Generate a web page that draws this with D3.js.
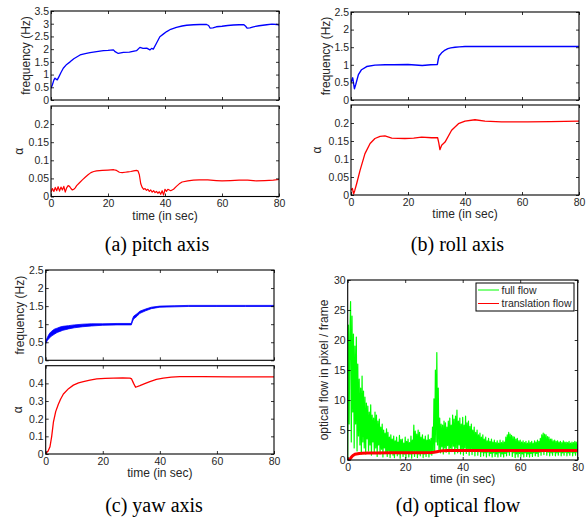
<!DOCTYPE html>
<html lang="en">
<head>
<meta charset="UTF-8" />
<title>Oscillation frequency, alpha and optical flow</title>
<script src="https://d3js.org/d3.v7.min.js"></script>
<style>
  html, body { margin: 0; padding: 0; background: #fff; }
  svg { display: block; }
  .tick text { font-family: "Liberation Sans", Arial, sans-serif; font-size: 10.5px; fill: #262626; }
  .axis-label { font-family: "Liberation Sans", Arial, sans-serif; font-size: 12px; fill: #262626; }
  .legend-text { font-family: "Liberation Sans", Arial, sans-serif; font-size: 10.5px; fill: #262626; }
  .caption { font-family: "Liberation Serif", "Times New Roman", serif; font-size: 20px; fill: #000; }
</style>
</head>
<body>
<svg id="chart" width="587" height="517"></svg>
<script>
// ---- tick values ----
const xTicks       = [0, 20, 40, 60, 80];
const freqTicksA   = [0, 0.5, 1, 1.5, 2, 2.5, 3, 3.5];
const freqTicksBC  = [0, 0.5, 1, 1.5, 2, 2.5];
const alphaTicksAB = [0, 0.05, 0.1, 0.15, 0.2];
const alphaTicksC  = [0, 0.1, 0.2, 0.3, 0.4];
const flowTicks    = [0, 5, 10, 15, 20, 25, 30];

// ---- (a) pitch ----
const pitchFreqT = [0, 0.5, 1, 1.4, 1.8, 2.2, 2.8, 3.5, 4.3, 5.5, 6.7, 8, 10.2, 12, 13.7, 16, 18.4, 20, 21.9, 22.5,
  23.6, 25.4, 27.5, 30, 31.2, 32.3, 33.6, 34.7, 35.3, 35.9, 37, 38.2, 39.5, 40.6, 42, 44, 46, 47.6, 50, 52.3,
  54.6, 55.3, 55.8, 56.8, 58, 60, 62, 64, 66, 67.7, 68.3, 68.8, 69.8, 71, 73, 75.7, 77.5, 79.2, 80];
const pitchFreqV = [0.46, 0.6, 0.78, 0.86, 0.82, 0.79, 0.92, 1.08, 1.25, 1.4, 1.5, 1.62, 1.77, 1.82, 1.86, 1.9, 1.94, 1.95, 1.97, 1.9,
  1.83, 1.87, 1.88, 1.94, 2.07, 2.03, 2.04, 1.97, 2.03, 2.0, 2.23, 2.49, 2.6, 2.69, 2.78, 2.86, 2.91, 2.94, 2.96, 2.97,
  2.97, 2.93, 2.83, 2.84, 2.88, 2.9, 2.93, 2.95, 2.96, 2.96, 2.9, 2.83, 2.84, 2.88, 2.92, 2.96, 2.98, 2.97, 2.94];
const pitchAlphaT = [0, 0.5, 1, 1.5, 2, 2.5, 3, 3.5, 4, 4.5, 5, 5.5, 6, 6.5, 7, 7.5, 8, 8.5, 9,
  10, 11, 12, 13, 14, 15, 16, 18, 20, 22, 23, 24, 25, 26, 27, 28, 29, 30,
  30.5, 31, 31.5, 32, 32.5, 33, 33.5, 34, 34.5, 35, 35.5, 36, 36.5, 37, 37.5, 38, 38.5, 39, 39.5, 40, 40.5, 41,
  42, 43, 44, 45, 46, 48, 50, 52, 55, 58, 60, 63, 66, 69, 72, 75, 78, 80];
const pitchAlphaV = [0.012, 0.022, 0.014, 0.025, 0.016, 0.027, 0.015, 0.026, 0.018, 0.028, 0.012, 0.024, 0.03, 0.028, 0.022, 0.018, 0.02, 0.024, 0.03,
  0.038, 0.046, 0.053, 0.06, 0.066, 0.069, 0.071, 0.072, 0.073, 0.074, 0.072, 0.067, 0.066, 0.067, 0.068, 0.069, 0.071, 0.072,
  0.071, 0.06, 0.035, 0.025, 0.02, 0.022, 0.017, 0.02, 0.014, 0.018, 0.012, 0.016, 0.011, 0.014, 0.009, 0.013, 0.006, 0.016, 0.004, 0.02, 0.014, 0.02,
  0.016, 0.02, 0.028, 0.035, 0.04, 0.043, 0.045, 0.046, 0.046, 0.044, 0.043, 0.044, 0.045, 0.045, 0.043, 0.044, 0.045, 0.047];

// ---- (b) roll ----
const rollFreqT = [0, 0.6, 1.2, 1.7, 2.6, 3.7, 5.5, 8.4, 12, 15, 20, 25, 28, 30.3, 30.6, 30.9, 31.8, 33, 34, 35, 36.5, 38, 40, 45, 50, 60, 70, 80];
const rollFreqV = [0.5, 0.63, 0.32, 0.45, 0.72, 0.86, 0.95, 0.99, 1.0, 1.0, 1.01, 0.98, 1.0, 1.01, 1.15, 1.25, 1.34, 1.42, 1.46, 1.48, 1.5, 1.51, 1.52, 1.52, 1.52, 1.52, 1.52, 1.52];
const rollAlphaT = [0, 0.5, 0.9, 1.3, 2, 3.2, 4.9, 6.7, 8.4, 10.2, 11.9, 14.3, 18.9, 22, 24.8, 28.3, 30.4, 30.8, 31.2, 31.8, 33, 35.3, 37.7, 40, 43.5, 47, 52.8, 62, 70, 80];
const rollAlphaV = [0.014, 0.018, 0.003, 0.012, 0.032, 0.069, 0.115, 0.143, 0.157, 0.163, 0.164, 0.158, 0.157, 0.158, 0.161, 0.159, 0.159, 0.145, 0.126, 0.138, 0.147, 0.18, 0.198, 0.205, 0.209, 0.205, 0.203, 0.203, 0.204, 0.205];

// ---- (c) yaw (frequency drawn as a dense band: low / high edges) ----
const yawFreqT  = [0, 0.5, 1, 1.5, 2, 3, 4, 5, 6, 8, 10, 13, 16, 20, 25, 30, 30.4, 30.8, 32, 33, 35, 37, 40, 45, 50, 60, 70, 80];
const yawFreqLo = [0.46, 0.54, 0.59, 0.63, 0.67, 0.72, 0.77, 0.8, 0.83, 0.87, 0.9, 0.93, 0.95, 0.97, 0.98, 0.98, 1.07, 1.14, 1.22, 1.3, 1.37, 1.43, 1.47, 1.48, 1.49, 1.49, 1.49, 1.49];
const yawFreqHi = [0.52, 0.62, 0.7, 0.76, 0.8, 0.86, 0.89, 0.92, 0.94, 0.96, 0.98, 1.0, 1.01, 1.01, 1.02, 1.02, 1.14, 1.22, 1.29, 1.36, 1.42, 1.47, 1.5, 1.51, 1.52, 1.52, 1.52, 1.52];
const yawAlphaT = [0, 0.8, 1.5, 2.1, 2.7, 3.5, 4.4, 5.2, 6.2, 8, 9.7, 11.5, 13.2, 15.5, 17.9, 20.8, 23.7, 27, 29.5, 30.1,
  30.8, 31.5, 33, 34.7, 36.5, 38.8, 41.2, 44, 47, 55, 65, 80];
const yawAlphaV = [0.004, 0.015, 0.041, 0.1, 0.18, 0.24, 0.28, 0.31, 0.34, 0.37, 0.39, 0.403, 0.41, 0.418, 0.425, 0.428, 0.43, 0.431, 0.43, 0.425,
  0.4, 0.378, 0.387, 0.398, 0.41, 0.422, 0.43, 0.435, 0.438, 0.438, 0.437, 0.437];

// ---- (d) optical flow: full flow sampled every 0.25 s (one row = 1 s), translation flow ----
const flowStep = 0.25;
const fullFlowV = [
  0.3, 22.5, 6, 21,   26.4, 3, 24, 8,      21, 2, 19, 6,       20.5, 1.5, 16, 4,    13.5, 2.5, 12, 1,
  14, 3, 11.5, 2,     10.5, 1, 9.5, 3.5,   9, 1.5, 8, 2.5,     9.2, 0.8, 7.5, 3,    7, 1.2, 8, 2,
  7.5, 0.6, 6.5, 2.5, 6.8, 1, 5.5, 1.8,    6, 0.5, 5, 2,       4.5, 1.2, 5.2, 0.6,  4.6, 1.5, 3.8, 0.4,
  4.2, 1.1, 3.5, 0.8, 4, 0.4, 3.2, 1.4,    3.8, 0.7, 3, 1,     4.1, 0.3, 3.4, 1.2,  3.5, 0.6, 2.8, 1,
  3.8, 0.4, 3.1, 1.3, 3.5, 0.5, 2.9, 1,    4, 0.3, 3.3, 1.2,   5.8, 0.6, 4.8, 1.4,  4.3, 0.4, 5, 1,
  4.6, 0.7, 3.8, 1.3, 4.2, 0.4, 3.5, 1,    4, 0.6, 3.3, 1.2,   4.2, 0.5, 3.4, 1,    3.6, 0.8, 5.5, 1.2,
  10.2, 1.5, 15, 3,   17.9, 2.5, 12, 1.5,  7, 1.2, 6, 2.2,     5.8, 1, 6.5, 2,      6.2, 1.3, 5.5, 2.4,
  6.5, 1, 7, 2,       5.8, 1.4, 7.5, 2.3,  6.8, 1, 7.3, 2,     8.3, 1.2, 6.5, 2.5,  7, 1, 6, 1.8,
  7.1, 0.8, 5.8, 2,   7.3, 1.1, 6.2, 1.6,  6.5, 0.8, 5.6, 1.7, 6, 0.9, 5, 1.5,     5.5, 0.7, 4.6, 1.6,
  5, 0.8, 4.2, 1.4,   4.5, 0.6, 3.8, 1.3,  4.2, 0.7, 3.5, 1.2, 3.8, 0.5, 3.2, 1.3,  3.6, 0.7, 3.1, 1.1,
  3.5, 0.5, 3, 1.2,   3.3, 0.6, 2.9, 1,    3.2, 0.5, 2.8, 1.2, 3.3, 0.6, 2.9, 1,    3.2, 0.5, 3, 1.1,
  3.8, 0.7, 4.2, 1.3, 4.6, 0.8, 4.3, 1.4,  4.1, 0.6, 3.9, 1.2, 3.8, 0.4, 3.5, 1,    3.6, 0.5, 3.2, 1.1,
  3.3, 0.6, 3, 1,     3.2, 0.5, 2.9, 1.2,  3.1, 0.6, 2.8, 1,   3.2, 0.5, 2.9, 1.1,  3.1, 0.6, 2.8, 1.2,
  3.2, 0.7, 3, 1.1,   3.3, 0.6, 3.1, 1.3,  3.6, 0.8, 4.2, 1.4, 4.5, 0.9, 4.3, 1.5,  4.2, 0.8, 3.9, 1.3,
  3.8, 0.7, 3.5, 1.2, 3.5, 0.8, 3.2, 1.3,  3.3, 0.7, 3.1, 1.2, 3.2, 0.8, 3, 1.3,    3.1, 0.7, 2.9, 1.2,
  3.2, 0.8, 3, 1.3,   3, 0.7, 2.9, 1.2,    3.1, 0.8, 2.8, 1.3, 3, 0.7, 2.9, 1.2,    3.1, 0.8, 3, 1.3,
  2.6];
const transFlowT = [0, 0.5, 1, 1.5, 2, 2.5, 3, 4, 5, 7, 10, 15, 20, 25, 29, 30, 31, 32, 33, 35, 40, 50, 60, 70, 80];
const transFlowV = [0, 0.05, 0.3, 0.6, 0.8, 0.95, 1.0, 1.08, 1.12, 1.15, 1.18, 1.2, 1.2, 1.22, 1.25, 1.28, 1.38, 1.48, 1.55, 1.57, 1.58, 1.58, 1.58, 1.58, 1.58];

const legendNames = ['full flow', 'translation flow'];
const captions = ['(a) pitch axis', '(b) roll axis', '(c) yaw axis', '(d) optical flow'];

const BLUE = '#0000ff', RED = '#ff0000', GREEN = '#00ff00';
const svg = d3.select('#chart');
svg.append('rect').attr('width', 587).attr('height', 517).attr('fill', '#fff');
const defs = svg.append('defs');
let clipCount = 0;

const zip = (ts, vs) => ts.map((t, i) => [t, vs[i]]);
const fmt = d3.format('~g');

function makeAxes(box, yDomain, yTicks, showX) {
  const x = d3.scaleLinear().domain([0, 80]).range([box.left, box.right]);
  const y = d3.scaleLinear().domain(yDomain).range([box.bottom, box.top]);
  const g = svg.append('g');
  const id = 'clip' + (clipCount++);
  defs.append('clipPath').attr('id', id).append('rect')
    .attr('x', box.left).attr('y', box.top)
    .attr('width', box.right - box.left).attr('height', box.bottom - box.top);
  const plot = g.append('g').attr('clip-path', `url(#${id})`);

  const styleAxis = sel => {
    sel.select('.domain').remove();
    sel.attr('font-family', null).attr('font-size', null).style('color', '#000');
    sel.selectAll('.tick line').attr('stroke-width', 0.8);
  };
  g.append('g').attr('transform', `translate(0,${box.bottom})`)
    .call(d3.axisBottom(x).tickValues(xTicks).tickSizeInner(-3).tickSizeOuter(0).tickPadding(3.5)
      .tickFormat(showX ? fmt : () => ''))
    .call(styleAxis);
  g.append('g').attr('transform', `translate(0,${box.top})`)
    .call(d3.axisTop(x).tickValues(xTicks).tickSizeInner(-3).tickSizeOuter(0).tickFormat(() => ''))
    .call(styleAxis);
  g.append('g').attr('transform', `translate(${box.left},0)`)
    .call(d3.axisLeft(y).tickValues(yTicks).tickSizeInner(-3).tickSizeOuter(0).tickPadding(2).tickFormat(fmt))
    .call(styleAxis);
  g.append('g').attr('transform', `translate(${box.right},0)`)
    .call(d3.axisRight(y).tickValues(yTicks).tickSizeInner(-3).tickSizeOuter(0).tickFormat(() => ''))
    .call(styleAxis);

  // y label
  g.append('text').attr('class', 'axis-label')
    .attr('transform', `translate(${box.left - box.labelOffset},${(box.top + box.bottom) / 2}) rotate(-90)`)
    .attr('text-anchor', 'middle').text(box.yLabel);
  if (showX) {
    g.append('text').attr('class', 'axis-label')
      .attr('x', (box.left + box.right) / 2).attr('y', box.bottom + 23)
      .attr('text-anchor', 'middle').text('time (in sec)');
  }
  return { x, y, g, plot, box };
}

function drawLine(ax, pts, color, width) {
  ax.plot.append('path').datum(pts)
    .attr('fill', 'none').attr('stroke', color).attr('stroke-width', width)
    .attr('stroke-linejoin', 'round')
    .attr('d', d3.line().x(d => ax.x(d[0])).y(d => ax.y(d[1])));
}

function drawBox(ax) {
  const b = ax.box;
  ax.g.append('rect').attr('x', b.left).attr('y', b.top)
    .attr('width', b.right - b.left).attr('height', b.bottom - b.top)
    .attr('fill', 'none').attr('stroke', '#000').attr('stroke-width', 1.1);
}

// (a) pitch
const aTop = makeAxes({ left: 51, right: 279, top: 11, bottom: 100, yLabel: 'frequency (Hz)', labelOffset: 21 }, [0, 3.5], freqTicksA, false);
drawLine(aTop, zip(pitchFreqT, pitchFreqV), BLUE, 1.3);
drawBox(aTop);
const aBot = makeAxes({ left: 51, right: 279, top: 106, bottom: 196.5, yLabel: 'α', labelOffset: 28 }, [0, 0.25], alphaTicksAB, true);
drawLine(aBot, zip(pitchAlphaT, pitchAlphaV), RED, 1.2);
drawBox(aBot);

// (b) roll
const bTop = makeAxes({ left: 351, right: 579, top: 12, bottom: 100, yLabel: 'frequency (Hz)', labelOffset: 21.5 }, [0, 2.5], freqTicksBC, false);
drawLine(bTop, zip(rollFreqT, rollFreqV), BLUE, 1.4);
drawBox(bTop);
const bBot = makeAxes({ left: 351, right: 579, top: 105, bottom: 195, yLabel: 'α', labelOffset: 30 }, [0, 0.25], alphaTicksAB, true);
drawLine(bBot, zip(rollAlphaT, rollAlphaV), RED, 1.3);
drawBox(bBot);

// (c) yaw
const cTop = makeAxes({ left: 45.7, right: 274, top: 270, bottom: 360.3, yLabel: 'frequency (Hz)', labelOffset: 22 }, [0, 2.5], freqTicksBC, false);
const bandPts = yawFreqT.map((t, i) => [t, yawFreqLo[i], yawFreqHi[i]]);
cTop.plot.append('path').datum(bandPts)
  .attr('fill', BLUE).attr('stroke', BLUE).attr('stroke-width', 0.8)
  .attr('d', d3.area().x(d => cTop.x(d[0])).y0(d => cTop.y(d[1])).y1(d => cTop.y(d[2])));
drawBox(cTop);
const cBot = makeAxes({ left: 45.7, right: 274, top: 365.7, bottom: 454, yLabel: 'α', labelOffset: 24 }, [0, 0.5], alphaTicksC, true);
drawLine(cBot, zip(yawAlphaT, yawAlphaV), RED, 1.3);
drawBox(cBot);

// (d) optical flow
const dAx = makeAxes({ left: 347.7, right: 577.7, top: 280, bottom: 460, yLabel: 'optical flow in pixel / frame', labelOffset: 20 }, [0, 30], flowTicks, true);
drawLine(dAx, fullFlowV.map((v, i) => [i * flowStep, v]), GREEN, 1.2);
drawLine(dAx, zip(transFlowT, transFlowV), RED, 3);
drawBox(dAx);

// legend
const leg = dAx.g.append('g');
leg.append('rect').attr('x', 476).attr('y', 283).attr('width', 98).attr('height', 28)
  .attr('fill', '#fff').attr('stroke', '#000').attr('stroke-width', 1);
[GREEN, RED].forEach((c, i) => {
  const yy = 290 + i * 13.5;
  leg.append('line').attr('x1', 478).attr('x2', 499).attr('y1', yy).attr('y2', yy)
    .attr('stroke', c).attr('stroke-width', 1);
  leg.append('text').attr('class', 'legend-text').attr('x', 501.5).attr('y', yy + 3.8).text(legendNames[i]);
});

// captions
const capPos = [[157, 251], [457.5, 251], [154, 512], [458, 512]];
captions.forEach((c, i) => {
  svg.append('text').attr('class', 'caption').attr('x', capPos[i][0]).attr('y', capPos[i][1])
    .attr('text-anchor', 'middle').text(c);
});
</script>
</body>
</html>
